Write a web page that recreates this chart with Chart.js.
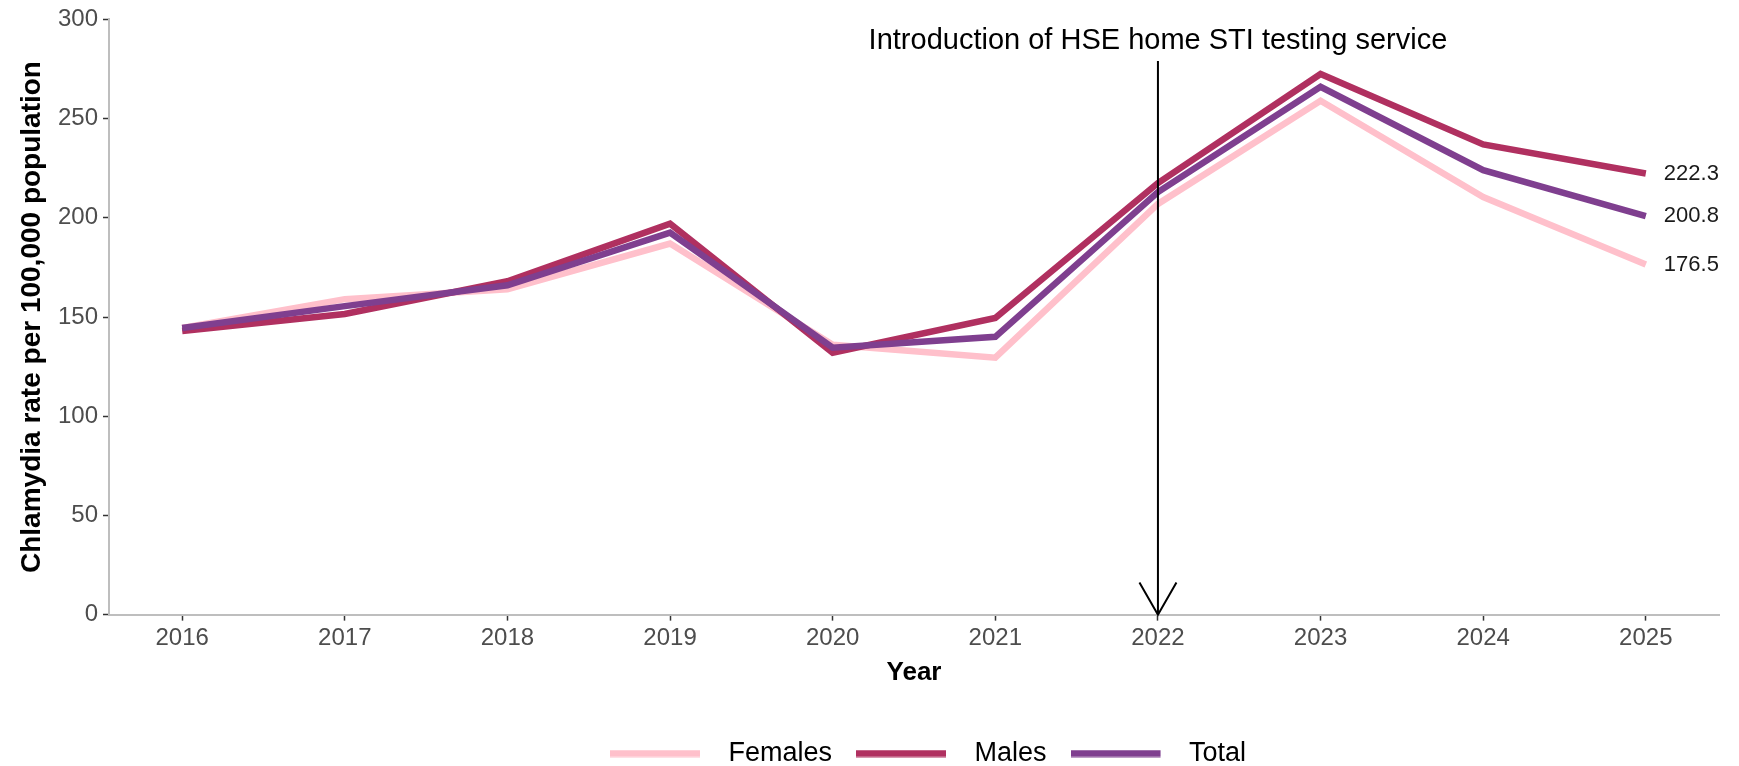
<!DOCTYPE html>
<html>
<head>
<meta charset="utf-8">
<title>Chlamydia rate per 100,000 population</title>
<script src="https://cdn.jsdelivr.net/npm/chart.js@4.4.1/dist/chart.umd.min.js"></script>
<style>
  html, body { margin: 0; padding: 0; background: #fff; }
  #wrap { width: 1739px; height: 766px; }
</style>
</head>
<body>
<div id="wrap"><canvas id="chart-chlamydia" width="1739" height="766"></canvas></div>
<script>
const years = [2016, 2017, 2018, 2019, 2020, 2021, 2022, 2023, 2024, 2025];
const females = [144.5, 159, 164, 187, 136, 129.5, 207, 259, 210.5, 176.5];
const males = [143, 151.5, 168, 197, 132, 149.5, 217.5, 272.5, 237, 222.3];
const total = [144.5, 155.5, 166, 192.5, 134.5, 140, 213, 266, 224, 200.8];
const yTicks = [0, 50, 100, 150, 200, 250, 300];

const annotationYear = 2022;
const annotationText = 'Introduction of HSE home STI testing service';
const annotationTextValue = 289;
const annotationLineTop = 279;

const FONT = "'Liberation Sans', Arial, sans-serif";
const COLORS = { females: '#FFC0CB', males: '#B03060', total: '#7F3F8F' };

function toPoints(values) {
  return values.map((v, i) => ({ x: years[i], y: v }));
}

// legend swatch: a line with some empty space after it, so the text sits further away
function legendSwatch(color) {
  const c = document.createElement('canvas');
  c.width = 105;
  c.height = 8;
  const g = c.getContext('2d');
  g.fillStyle = color;
  g.fillRect(0, 0.5, 90, 7);
  return c;
}

const annotationPlugin = {
  id: 'hseAnnotation',
  afterLayout(chart) {
    // ggplot centres the legend a bit right of the canvas middle
    if (chart.legend) {
      chart.legend.left += 14;
      chart.legend.right += 14;
    }
  },
  afterDatasetsDraw(chart) {
    const { ctx, scales: { x, y } } = chart;
    const px = x.getPixelForValue(annotationYear);
    const yTop = y.getPixelForValue(annotationLineTop);
    const yTip = y.getPixelForValue(0);
    ctx.save();
    ctx.strokeStyle = '#000';
    ctx.lineWidth = 2;
    ctx.beginPath();
    ctx.moveTo(px, yTop);
    ctx.lineTo(px, yTip);
    const len = 37, ang = Math.PI / 6;
    ctx.moveTo(px - len * Math.sin(ang), yTip - len * Math.cos(ang));
    ctx.lineTo(px, yTip);
    ctx.lineTo(px + len * Math.sin(ang), yTip - len * Math.cos(ang));
    ctx.stroke();

    ctx.fillStyle = '#000';
    ctx.font = '29px ' + FONT;
    ctx.textAlign = 'center';
    ctx.textBaseline = 'middle';
    ctx.fillText(annotationText, px, y.getPixelForValue(annotationTextValue));

    // end labels
    ctx.font = '22px ' + FONT;
    ctx.textAlign = 'left';
    ctx.fillStyle = '#1a1a1a';
    const last = years.length - 1;
    [males, total, females].forEach(series => {
      ctx.fillText(series[last].toFixed(1), x.getPixelForValue(years[last]) + 18, y.getPixelForValue(series[last]));
    });
    ctx.restore();
  }
};

const lineStyle = {
  borderWidth: 6.5,
  pointRadius: 0,
  tension: 0,
  borderJoinStyle: 'miter',
  borderCapStyle: 'butt',
  fill: false
};

new Chart(document.getElementById('chart-chlamydia').getContext('2d'), {
  type: 'line',
  data: {
    datasets: [
      { label: 'Females', data: toPoints(females), borderColor: COLORS.females, backgroundColor: COLORS.females, order: 3, ...lineStyle },
      { label: 'Males', data: toPoints(males), borderColor: COLORS.males, backgroundColor: COLORS.males, order: 2, ...lineStyle },
      { label: 'Total', data: toPoints(total), borderColor: COLORS.total, backgroundColor: COLORS.total, order: 1, ...lineStyle }
    ]
  },
  options: {
    responsive: false,
    animation: false,
    layout: { padding: { top: 18, right: 20, bottom: -11, left: 0 } },
    plugins: {
      tooltip: { enabled: false },
      legend: {
        position: 'bottom',
        fullSize: false,
        labels: {
          color: '#000',
          font: { size: 27, family: FONT },
          usePointStyle: true,
          pointStyleWidth: 105,
          padding: 24,
          generateLabels(chart) {
            return chart.data.datasets.map((ds, i) => ({
              text: ds.label,
              pointStyle: legendSwatch(ds.borderColor),
              fillStyle: ds.borderColor,
              strokeStyle: ds.borderColor,
              lineWidth: 0,
              hidden: false,
              datasetIndex: i,
              fontColor: '#000'
            }));
          }
        }
      }
    },
    scales: {
      x: {
        type: 'linear',
        min: years[0] - 0.45,
        max: years[years.length - 1] + 0.45,
        grid: { drawOnChartArea: false, drawTicks: true, tickLength: 6, tickColor: '#333', tickWidth: 1.5 },
        border: { display: true, color: '#BEBEBE', width: 2 },
        ticks: {
          stepSize: 1,
          includeBounds: false,
          padding: 8,
          color: '#4D4D4D',
          font: { size: 24, family: FONT, lineHeight: 0.84 },
          callback: v => String(v)
        },
        title: {
          display: true,
          text: 'Year',
          color: '#000',
          font: { size: 26, weight: 'bold', family: FONT },
          padding: { top: 0, bottom: 28 }
        }
      },
      y: {
        min: 0,
        max: 300,
        afterFit(scale) { scale.width = 109; },
        afterBuildTicks(scale) { scale.ticks = yTicks.map(v => ({ value: v })); },
        grid: { drawOnChartArea: false, drawTicks: true, tickLength: 6, tickColor: '#333', tickWidth: 1.5 },
        border: { display: true, color: '#BEBEBE', width: 2 },
        ticks: {
          padding: 5,
          color: '#4D4D4D',
          font: { size: 24, family: FONT }
        },
        title: {
          display: true,
          text: 'Chlamydia rate per 100,000 population',
          color: '#000',
          font: { size: 28, weight: 'bold', family: FONT },
          padding: { top: 15, bottom: 4 }
        }
      }
    }
  },
  plugins: [annotationPlugin]
});
</script>
</body>
</html>
